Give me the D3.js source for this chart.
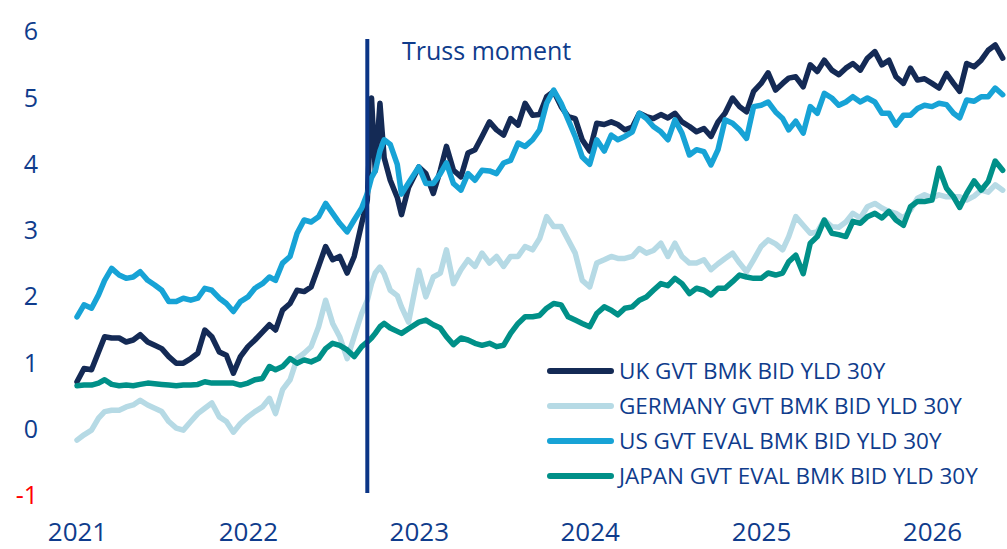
<!DOCTYPE html>
<html><head><meta charset="utf-8">
<script src="https://cdn.jsdelivr.net/npm/d3@7"></script>
<style>
html,body{margin:0;padding:0;background:#fff;}
svg{display:block;font-family:"Open Sans","Noto Sans",sans-serif;}
</style>
</head><body>
<svg id="chart" width="1007" height="549"></svg>
<script>
// ---- data ----
const dates = [
"2021-01-01","2021-01-16","2021-02-01","2021-02-16","2021-03-01","2021-03-16","2021-04-01","2021-04-16","2021-05-01","2021-05-16","2021-06-01","2021-06-16",
"2021-07-01","2021-07-16","2021-08-01","2021-08-16","2021-09-01","2021-09-16","2021-10-01","2021-10-16","2021-11-01","2021-11-16","2021-12-01",
"2021-12-16","2022-01-01","2022-01-16","2022-02-01","2022-02-16","2022-03-01","2022-03-16","2022-04-01","2022-04-16","2022-05-01","2022-05-16",
"2022-06-01","2022-06-16","2022-07-01","2022-07-16","2022-08-01","2022-08-16","2022-09-01",
"2022-09-13","2022-09-22","2022-09-30","2022-10-10","2022-10-19","2022-11-01","2022-11-16","2022-11-25","2022-12-10",
"2023-01-01","2023-01-16","2023-02-01","2023-02-16","2023-03-01","2023-03-16","2023-04-01","2023-04-16","2023-05-01","2023-05-16","2023-06-01","2023-06-16",
"2023-07-01","2023-07-16","2023-08-01","2023-08-16","2023-09-01","2023-09-16","2023-10-01","2023-10-16","2023-11-01","2023-11-16","2023-12-01","2023-12-16",
"2024-01-01","2024-01-16","2024-02-01","2024-02-16","2024-03-01","2024-03-16","2024-04-01","2024-04-16","2024-05-01","2024-05-16","2024-06-01","2024-06-16",
"2024-07-01","2024-07-16","2024-08-01","2024-08-16","2024-09-01","2024-09-16","2024-10-01","2024-10-16","2024-11-01","2024-11-16","2024-12-01","2024-12-16",
"2025-01-01","2025-01-16","2025-02-01","2025-02-16","2025-03-01","2025-03-16","2025-04-01","2025-04-16","2025-05-01","2025-05-16","2025-06-01","2025-06-16",
"2025-07-01","2025-07-16","2025-08-01","2025-08-16","2025-09-01","2025-09-16","2025-10-01","2025-10-16","2025-11-01","2025-11-16","2025-12-01","2025-12-16",
"2026-01-01","2026-01-16","2026-02-01","2026-02-16","2026-03-01","2026-03-16","2026-04-01","2026-04-16","2026-05-01","2026-05-16","2026-06-01"
];

const ukYield = [
0.72,0.92,0.90,1.17,1.40,1.38,1.38,1.32,1.35,1.43,1.32,1.27,1.22,1.10,1.00,1.00,1.07,1.15,1.50,1.40,1.17,1.12,0.85,
1.10,1.25,1.35,1.47,1.58,1.50,1.80,1.90,2.10,2.08,2.15,2.46,2.76,2.56,2.61,2.36,2.61,3.11,
3.46,5.00,3.90,4.92,4.10,3.76,3.50,3.24,3.65,
3.96,3.86,3.56,3.91,4.27,3.91,3.81,4.17,4.22,4.42,4.64,4.52,4.44,4.69,4.59,4.92,4.74,4.75,5.02,5.10,4.87,4.72,4.69,4.37,
4.20,4.62,4.60,4.64,4.60,4.52,4.56,4.77,4.72,4.69,4.75,4.70,4.77,4.64,4.57,4.49,4.54,4.42,4.64,4.77,5.00,4.87,4.79,5.10,
5.22,5.38,5.12,5.22,5.30,5.32,5.17,5.50,5.40,5.57,5.42,5.35,5.45,5.52,5.42,5.60,5.70,5.50,5.57,5.32,5.22,5.45,5.27,5.29,
5.22,5.15,5.37,5.22,5.10,5.52,5.47,5.57,5.72,5.80,5.60
];

const deYield = [
-0.16,-0.08,-0.01,0.17,0.27,0.29,0.29,0.34,0.37,0.44,0.37,0.32,0.27,0.12,0.02,-0.01,0.12,0.24,0.32,0.40,0.19,0.12,-0.04,
0.09,0.19,0.27,0.34,0.47,0.24,0.60,0.75,1.07,1.15,1.25,1.55,1.95,1.60,1.40,1.07,1.40,1.75,
1.95,2.20,2.36,2.45,2.35,2.10,2.02,1.85,1.62,
2.40,2.00,2.30,2.36,2.71,2.20,2.41,2.56,2.46,2.66,2.51,2.61,2.46,2.61,2.61,2.76,2.71,2.88,3.21,3.06,3.06,2.86,2.66,2.25,
2.15,2.51,2.56,2.61,2.58,2.58,2.61,2.73,2.66,2.70,2.81,2.61,2.81,2.61,2.51,2.51,2.56,2.41,2.50,2.58,2.66,2.51,2.38,2.56,
2.76,2.86,2.80,2.71,2.91,3.21,3.08,2.96,2.98,3.16,3.06,3.05,3.13,3.26,3.19,3.36,3.41,3.34,3.29,3.26,3.19,3.31,3.49,3.54,
3.49,3.54,3.51,3.51,3.51,3.46,3.52,3.61,3.58,3.69,3.61
];

const usYield = [
1.70,1.88,1.83,2.03,2.25,2.43,2.33,2.28,2.30,2.38,2.25,2.18,2.10,1.93,1.93,1.98,1.95,1.98,2.13,2.10,1.98,1.90,1.78,
1.93,2.00,2.13,2.20,2.30,2.25,2.51,2.61,2.96,3.16,3.13,3.21,3.41,3.26,3.11,2.98,3.16,3.34,
3.56,3.80,3.90,4.20,4.37,4.30,4.00,3.55,3.72,
3.96,3.71,3.71,3.86,4.02,3.71,3.61,3.86,3.76,3.91,3.90,3.86,4.02,4.06,4.32,4.27,4.37,4.52,4.92,5.12,4.92,4.67,4.42,4.11,
4.00,4.37,4.20,4.44,4.37,4.42,4.49,4.77,4.69,4.57,4.49,4.37,4.67,4.47,4.14,4.22,4.19,3.99,4.22,4.67,4.62,4.52,4.39,4.87,
4.89,4.94,4.79,4.69,4.52,4.65,4.47,4.87,4.77,5.07,5.00,4.89,4.94,5.02,4.94,5.00,4.94,4.77,4.77,4.59,4.74,4.74,4.84,4.89,
4.87,4.92,4.90,4.77,4.70,4.97,4.95,5.02,5.02,5.15,5.05
];

const jpYield = [
0.66,0.67,0.67,0.70,0.75,0.68,0.66,0.67,0.66,0.68,0.70,0.69,0.68,0.67,0.66,0.67,0.67,0.68,0.72,0.70,0.70,0.70,0.70,
0.67,0.70,0.75,0.77,0.95,0.90,0.95,1.07,1.00,1.05,1.02,1.07,1.22,1.30,1.27,1.20,1.10,1.25,
1.32,1.38,1.45,1.55,1.60,1.53,1.48,1.45,1.52,
1.62,1.65,1.58,1.53,1.40,1.28,1.38,1.35,1.30,1.27,1.30,1.25,1.27,1.45,1.60,1.70,1.70,1.72,1.83,1.90,1.88,1.70,1.65,1.60,
1.55,1.75,1.85,1.80,1.73,1.83,1.85,1.95,2.00,2.10,2.20,2.17,2.28,2.20,2.05,2.13,2.10,2.03,2.13,2.13,2.23,2.33,2.30,2.28,
2.28,2.36,2.33,2.36,2.53,2.63,2.35,2.81,2.91,3.16,2.96,2.94,2.91,3.14,3.11,3.21,3.26,3.19,3.29,3.16,3.08,3.36,3.44,3.44,
3.46,3.94,3.64,3.51,3.35,3.56,3.75,3.61,3.74,4.05,3.91
];

const seriesNames = ["UK GVT BMK BID YLD 30Y","GERMANY GVT BMK BID YLD 30Y","US GVT EVAL BMK BID YLD 30Y","JAPAN GVT EVAL BMK BID YLD 30Y"];
const seriesColors = ["#142a55","#b6dae5","#17a3d6","#009088"];
const yTicks = [-1,0,1,2,3,4,5,6];
const yearLabels = ["2021","2022","2023","2024","2025","2026"];
const trussDate = "2022-09-13";
const trussLabel = "Truss moment";

// ---- drawing ----
const parse = d3.timeParse("%Y-%m-%d");
const dts = dates.map(parse);
const svg = d3.select("#chart");
const textColor = "#0f3c8c";

const x = d3.scaleTime().domain([parse("2021-01-01"), parse("2026-01-01")]).range([77, 932]);
const y = d3.scaleLinear().domain([-1, 6]).range([495.8, 31.7]);

// y axis labels (plain hyphen for negatives, as in the reference)
const yAxis = svg.append("g").attr("transform","translate(38,0)")
  .call(d3.axisLeft(y).tickValues(yTicks).tickFormat(d => String(d)).tickSize(0).tickPadding(0));
yAxis.select(".domain").remove();
yAxis.selectAll("text").attr("font-size",25).attr("font-family","'Open Sans',sans-serif")
  .attr("fill", d => d < 0 ? "#ff0000" : textColor);

// x axis labels (baseline kept inside the picture)
const xAxis = svg.append("g").attr("transform","translate(0,541)")
  .call(d3.axisBottom(x).tickValues(yearLabels.map(s => parse(s + "-01-01")))
    .tickFormat(d3.timeFormat("%Y")).tickSize(0).tickPadding(0));
xAxis.select(".domain").remove();
xAxis.selectAll("text").attr("font-size",26).attr("font-family","'Open Sans',sans-serif")
  .attr("fill", textColor).attr("y",0).attr("dy","0");

// series lines
const allSeries = [ukYield, deYield, usYield, jpYield];
const line = d3.line().x((d,i) => x(dts[i])).y(d => y(d));
allSeries.forEach((vals, k) => {
  svg.append("path").datum(vals)
    .attr("d", line)
    .attr("fill","none")
    .attr("stroke", seriesColors[k])
    .attr("stroke-width", 5.5)
    .attr("stroke-linejoin","round")
    .attr("stroke-linecap","round");
});

// Truss moment marker
const tx = x(parse(trussDate));
svg.append("line").attr("x1",tx).attr("x2",tx).attr("y1",39).attr("y2",493)
  .attr("stroke","#0b3586").attr("stroke-width",4);
svg.append("text").attr("x",402).attr("y",60).text(trussLabel)
  .attr("font-size",25).attr("fill",textColor);

// legend
const lg = svg.append("g");
seriesNames.forEach((name, k) => {
  const ly = 371 + k * 35;
  lg.append("line").attr("x1",550).attr("x2",611).attr("y1",ly).attr("y2",ly)
    .attr("stroke",seriesColors[k]).attr("stroke-width",6).attr("stroke-linecap","round");
  lg.append("text").attr("x",619).attr("y",ly).attr("dy","0.36em")
    .attr("font-size",22.5).attr("fill",textColor).text(name);
});
</script>
</body></html>
